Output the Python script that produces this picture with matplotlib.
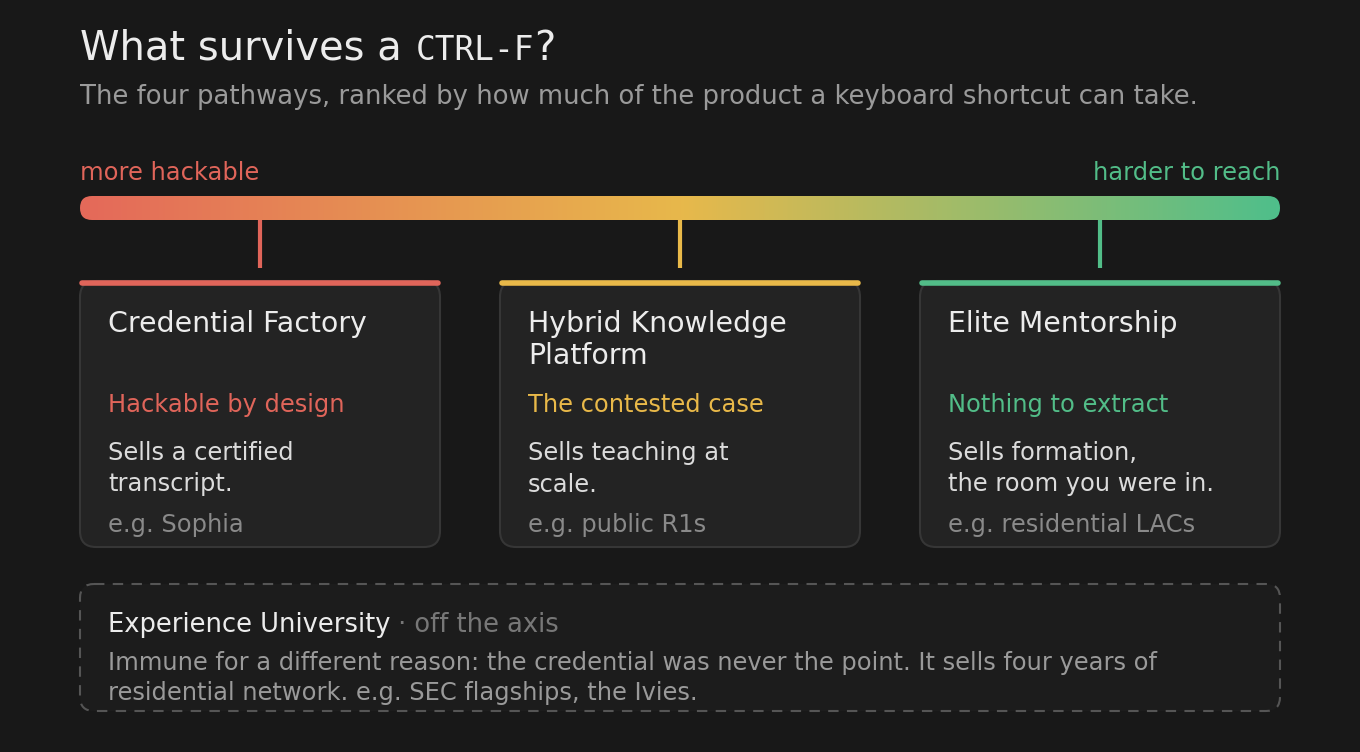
import matplotlib
matplotlib.use("Agg")
import matplotlib.pyplot as plt
import numpy as np
from matplotlib.patches import FancyBboxPatch
from matplotlib.colors import LinearSegmentedColormap

# texts / data
title_start = "What survives a "
title_mono = "CTRL-F"
title_end = "?"
subtitle = "The four pathways, ranked by how much of the product a keyboard shortcut can take."
axis_left = "more hackable"
axis_right = "harder to reach"

card_names = ["Credential Factory", "Hybrid Knowledge\nPlatform", "Elite Mentorship"]
card_tags = ["Hackable by design", "The contested case", "Nothing to extract"]
card_descs = ["Sells a certified\ntranscript.", "Sells teaching at\nscale.",
              "Sells formation,\nthe room you were in."]
card_examples = ["e.g. Sophia", "e.g. public R1s", "e.g. residential LACs"]
card_colors = ["#e0655a", "#e9b949", "#52bd88"]

off_name = "Experience University"
off_note = " · off the axis"
off_body = ("Immune for a different reason: the credential was never the point. It sells four years of\n"
            "residential network. e.g. SEC flagships, the Ivies.")

BG = "#181818"

fig = plt.figure(figsize=(13.6, 7.52), dpi=100, facecolor=BG)
ax = fig.add_axes([0, 0, 1, 1])
ax.set_xlim(0, 1360)
ax.set_ylim(752, 0)
ax.axis("off")
ax.set_facecolor(BG)
fig.canvas.draw()
renderer = fig.canvas.get_renderer()


def right_of(t):
    bb = t.get_window_extent(renderer)
    return bb.x1


# title
t1 = ax.text(80, 60, title_start, fontsize=28.8, color="#ececec", va="baseline")
x = right_of(t1)
t2 = ax.text(x + 1, 60, title_mono, fontsize=23.6, color="#ececec", va="baseline",
             family="DejaVu Sans Mono")
x = right_of(t2)
ax.text(x, 60, title_end, fontsize=28.8, color="#ececec", va="baseline")
ax.text(80, 104, subtitle, fontsize=18.6, color="#9a9a9a", va="baseline")

# axis labels
ax.text(80, 180, axis_left, fontsize=17.4, color=card_colors[0], va="baseline")
ax.text(1280, 180, axis_right, fontsize=17.4, color=card_colors[2], va="baseline", ha="right")

# gradient bar
bar = FancyBboxPatch((80, 196), 1200, 24, boxstyle="round,pad=0,rounding_size=12",
                     facecolor="none", edgecolor="none")
ax.add_patch(bar)
cmap = LinearSegmentedColormap.from_list("hack", ["#e4695a", "#e8b84b", "#4fbf8b"])
grad = np.linspace(0, 1, 512).reshape(1, -1)
im = ax.imshow(grad, cmap=cmap, extent=(80, 1280, 220, 196), aspect="auto", zorder=2)
im.set_clip_path(bar)

# cards
card_x = [80, 500, 920]
card_w = 360
for i in range(3):
    x0 = card_x[i]
    cx = x0 + card_w / 2
    col = card_colors[i]
    ax.plot([cx, cx], [220, 268], color=col, lw=3, solid_capstyle="butt", zorder=1)
    card = FancyBboxPatch((x0, 281), card_w, 266, boxstyle="round,pad=0,rounding_size=16",
                          facecolor="#232323", edgecolor="#363636", lw=1.5, zorder=2)
    ax.add_patch(card)
    ax.plot([x0 + 2, x0 + card_w - 2], [283, 283], color=col, lw=4,
            solid_capstyle="round", zorder=3)
    for j, ln in enumerate(card_names[i].split("\n")):
        ax.text(x0 + 28, 332 + 32 * j, ln, fontsize=20.4, color="#ececec",
                va="baseline", zorder=4)
    ax.text(x0 + 28, 412, card_tags[i], fontsize=17.4, color=col, va="baseline", zorder=4)
    for j, ln in enumerate(card_descs[i].split("\n")):
        ax.text(x0 + 28, 460 + 31.5 * j, ln, fontsize=17.4, color="#dcdcdc",
                va="baseline", zorder=4)
    ax.text(x0 + 28, 532, card_examples[i], fontsize=17.4, color="#8a8a8a",
            va="baseline", zorder=4)

# off-axis box
box = FancyBboxPatch((80, 584), 1200, 127, boxstyle="round,pad=0,rounding_size=14",
                     facecolor="#1c1c1c", edgecolor="#555555", lw=1.5,
                     linestyle=(0, (5, 4)), zorder=2)
ax.add_patch(box)
t = ax.text(108, 632, off_name, fontsize=18.5, color="#ececec", va="baseline", zorder=4)
ax.text(right_of(t), 632, off_note, fontsize=18.5, color="#777777", va="baseline", zorder=4)
for j, ln in enumerate(off_body.split("\n")):
    ax.text(108, 670 + 30 * j, ln, fontsize=17.4, color="#9a9a9a", va="baseline", zorder=4)

fig.savefig("out.png", dpi=100, facecolor=BG)
